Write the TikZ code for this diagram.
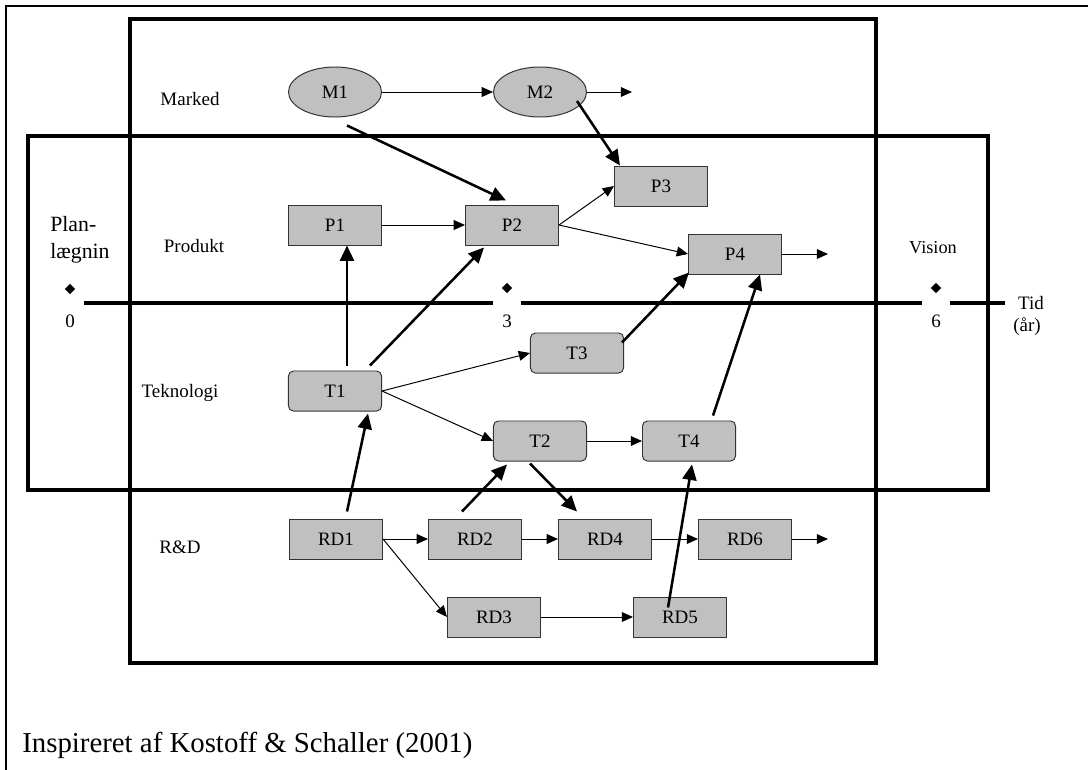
\documentclass[tikz,border=0pt]{standalone}
\usepackage{fontspec}
\setmainfont{Liberation Serif}
\usetikzlibrary{shapes.geometric,arrows.meta,calc}
\definecolor{boxgray}{RGB}{192,192,192}

\tikzset{
  box/.style={draw=black!80, fill=boxgray, line width=0.7pt, minimum width=2.325cm,
    minimum height=1cm, inner sep=0pt, font=\fontsize{13.5}{16}\selectfont},
  rbox/.style={box, rounded corners=3.5pt},
  oval/.style={box, ellipse, minimum height=1.25cm},
  lbl/.style={font=\fontsize{13.5}{16}\selectfont, inner sep=0pt},
  band/.style={line width=2.5pt},
  link/.style={line width=0.7pt, -{Triangle[length=8pt,width=7pt]}},
  push/.style={line width=1.8pt, -{Triangle[length=11pt,width=10pt]}},
  dia/.style={diamond, fill=black, inner sep=0pt, minimum size=7.5pt},
}

\begin{document}
\begin{tikzpicture}[x=0.025cm, y=-0.025cm]
      \useasboundingbox (0,0) rectangle (1088,770);
      % page frame
      \draw[line width=1.3pt] (6,770) -- (6,6) -- (1088,6);
      % bands
      \draw[band] (130,19) rectangle (876,663);
      \draw[band] (28,136) rectangle (988,490);

      % time axis
      \coordinate (axstart) at (84,303);
      \coordinate (axend) at (1005,303);
      \draw[band] (axstart) -- (axend);
      \node[fill=white, minimum width=0.7cm, minimum height=0.3cm, inner sep=0pt] (gap3) at (507,303) {};
      \node[fill=white, minimum width=0.7cm, minimum height=0.3cm, inner sep=0pt] (gap6) at (936,303) {};
      \node[dia] (d0) at (70,289) {};
      \node[dia] (d3) at (507,288) {};
      \node[dia] (d6) at (936,288) {};
      \node[lbl, anchor=base] (t0) at (70,327) {0};
      \node[lbl, anchor=base] (t3) at (507,327) {3};
      \node[lbl, anchor=base] (t6) at (936,327) {6};
      \node[lbl, anchor=base] (tid) at (1031,309) {Tid};
      \node[lbl, anchor=base] (aar) at (1027,331) {(år)};
      \node[lbl, font=\fontsize{15.5}{18}\selectfont, anchor=base west] (plan) at (50,231) {Plan-};
      \node[lbl, font=\fontsize{15.5}{18}\selectfont, anchor=base west] (laeg) at (50,258) {lægnin};
      \node[lbl, font=\fontsize{13}{16}\selectfont, anchor=base] (vision) at (933,253) {Vision};

      % row labels
      \node[lbl, anchor=base] (marked) at (190,105) {Marked};
      \node[lbl, anchor=base] (produkt) at (194,252) {Produkt};
      \node[lbl, anchor=base] (teknologi) at (180,397) {Teknologi};
      \node[lbl, anchor=base] (rd) at (180,553) {R\&D};

      % row 1
      \node[oval] (M1) at (335,92) {M1};
      \node[oval] (M2) at (540,92) {M2};
      \coordinate (M2out) at (632,92);
      % row 2
      \node[box] (P1) at (335,225) {P1};
      \node[box] (P2) at (512,225) {P2};
      \node[box] (P3) at (661,186) {P3};
      \node[box] (P4) at (735,254) {P4};
      \coordinate (P4out) at (828,254);
      % row 3
      \node[rbox] (T1) at (335,391) {T1};
      \node[rbox] (T3) at (577,353) {T3};
      \node[rbox] (T2) at (540,441) {T2};
      \node[rbox] (T4) at (689,441) {T4};
      % row 4
      \node[box] (RD1) at (336,539) {RD1};
      \node[box] (RD2) at (475,539) {RD2};
      \node[box] (RD4) at (605,539) {RD4};
      \node[box] (RD6) at (745,539) {RD6};
      \coordinate (RD6out) at (828,539);
      % row 5
      \node[box] (RD3) at (494,617) {RD3};
      \node[box] (RD5) at (680,617) {RD5};

      \node[lbl, font=\fontsize{20.5}{24}\selectfont, anchor=base west] (kilde) at (22,752) {Inspireret af Kostoff \& Schaller (2001)};

      % thin links
      \draw[link] (M1) -- (M2);
      \draw[link] (M2) -- (M2out);
      \draw[link] (P1) -- (P2);
      \draw[link] (P2.east) -- (P3.west);
      \draw[link] (P2.east) -- (P4.west);
      \draw[link] (P4) -- (P4out);
      \draw[link] (T1.east) -- (T3.west);
      \draw[link] (T1.east) -- (T2.west);
      \draw[link] (T2) -- (T4);
      \draw[link] (RD1) -- (RD2);
      \draw[link] (RD1.east) -- (RD3.west);
      \draw[link] (RD2) -- (RD4);
      \draw[link] (RD4) -- (RD6);
      \draw[link] (RD6) -- (RD6out);
      \draw[link] (RD3) -- (RD5);

      % thick links
      \draw[push] ($(M1.south)+(12,8)$) -- ($(P2.north)+(-6,-4)$);
      \draw[push] ($(M2.center)+(37,9)$) -- ($(P3.north west)+(6,0)$);
      \draw[push] ($(T1.north)+(12,-5)$) -- ($(P1.south)+(12,0)$);
      \draw[push] ($(T1.north)+(35,-5)$) -- ($(P2.south)+(-28,2)$);
      \draw[push] ($(T3.north east)+(-2,10)$) -- ($(P4.south west)+(1,-2)$);
      \draw[push] ($(T4.north)+(24,-5)$) -- ($(P4.south)+(25,0)$);
      \draw[push] ($(RD1.north)+(11,-7)$) -- ($(T1.south)+(33,2)$);
      \draw[push] ($(RD2.north)+(-13,-7)$) -- ($(T2.south)+(-33,3)$);
      \draw[push] ($(T2.south)+(-10,2)$) -- ($(RD4.north)+(-28,-7)$);
      \draw[push] ($(RD5.north)+(-12,11)$) -- ($(T4.south)+(3,3)$);
    \end{tikzpicture}
\end{document}
